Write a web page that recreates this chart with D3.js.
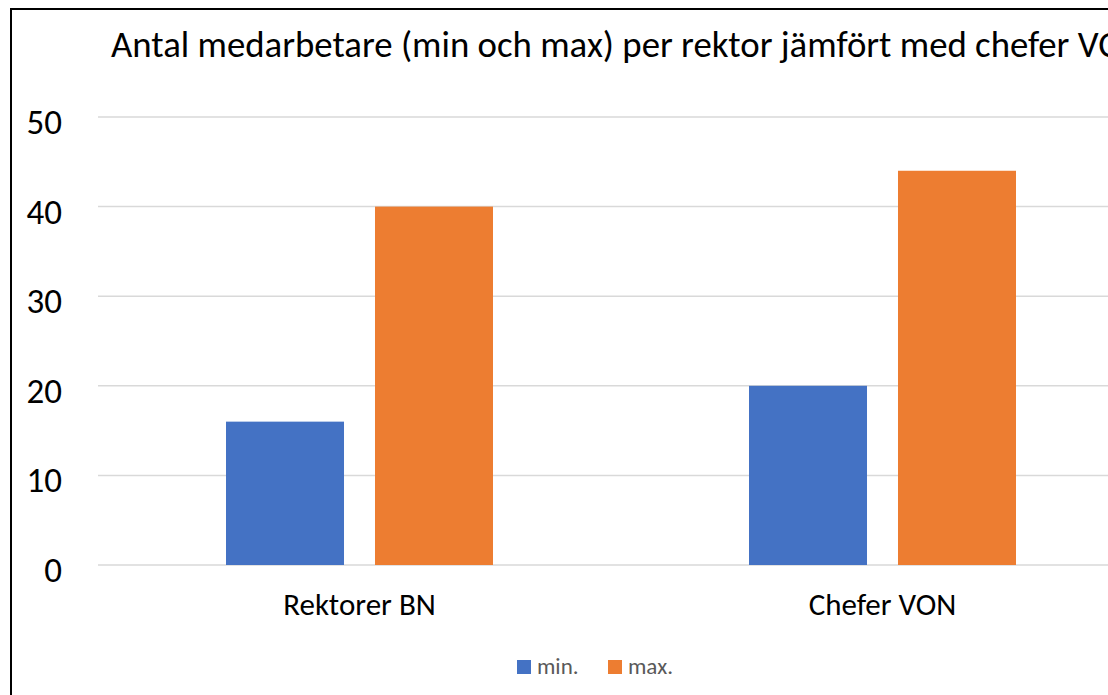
<!DOCTYPE html>
<html>
<head>
<meta charset="utf-8">
<script src="https://cdn.jsdelivr.net/npm/d3@7"></script>
<style>
  body { margin: 0; background: #fff; }
  svg { display: block; font-family: Calibri, Carlito, "Open Sans", sans-serif; }
</style>
</head>
<body>
<div id="chart"></div>
<script>
var categories = ["Rektorer BN", "Chefer VON"];
var seriesNames = ["min.", "max."];
var minValues = [16, 20];
var maxValues = [40, 44];
var yTicks = [0, 10, 20, 30, 40, 50];
var colors = ["#4472C4", "#ED7D31"];

var width = 1108,
    height = 695;

var svg = d3.select("#chart").append("svg")
    .attr("width", width)
    .attr("height", height);

// chart border (runs off the right and bottom edge)
svg.append("rect")
    .attr("x", 11).attr("y", 9)
    .attr("width", 1200).attr("height", 800)
    .attr("fill", "none")
    .attr("stroke", "#000")
    .attr("stroke-width", 2);

svg.append("text")
    .attr("x", 111)
    .attr("y", 57)
    .attr("font-size", 36.8)
    .attr("fill", "#000")
    .text("Antal medarbetare (min och max) per rektor jämfört med chefer VON");

var y = d3.scaleLinear().domain([0, 50]).range([565, 117]);

var x0 = d3.scaleBand().domain(categories).range([98, 1144]);
var x1 = d3.scaleBand().domain(seriesNames)
    .range([128, 395])
    .paddingInner(0.208);

// gridlines
svg.append("g").selectAll("line")
  .data(yTicks)
  .enter().append("line")
    .attr("x1", 98).attr("x2", 1144)
    .attr("y1", function(d) { return y(d); })
    .attr("y2", function(d) { return y(d); })
    .attr("stroke", "#d9d9d9")
    .attr("stroke-width", 1.5);

svg.append("g").selectAll("text")
  .data(yTicks)
  .enter().append("text")
    .attr("x", 62)
    .attr("y", function(d) { return y(d) + 17; })
    .attr("text-anchor", "end")
    .attr("font-size", 35)
    .attr("fill", "#000")
    .text(function(d) { return d; });

var rows = categories.map(function(c, i) {
  return {cat: c, values: [minValues[i], maxValues[i]]};
});

var group = svg.selectAll(".group")
  .data(rows)
  .enter().append("g")
    .attr("class", "group")
    .attr("transform", function(d) { return "translate(" + x0(d.cat) + ",0)"; });

group.selectAll("rect")
  .data(function(d) { return d.values.map(function(v, j) { return {name: seriesNames[j], value: v, j: j}; }); })
  .enter().append("rect")
    .attr("x", function(d) { return x1(d.name); })
    .attr("width", x1.bandwidth())
    .attr("y", function(d) { return y(d.value); })
    .attr("height", function(d) { return y(0) - y(d.value); })
    .attr("fill", function(d) { return colors[d.j]; });

group.append("text")
    .attr("x", (128 + 395) / 2)
    .attr("y", 615)
    .attr("text-anchor", "middle")
    .attr("font-size", 31)
    .attr("fill", "#000")
    .text(function(d) { return d.cat; });

// legend
var legendX = [517, 608];
var legend = svg.selectAll(".legend")
  .data(seriesNames)
  .enter().append("g")
    .attr("class", "legend")
    .attr("transform", function(d, i) { return "translate(" + legendX[i] + ",660)"; });

legend.append("rect")
    .attr("width", 14).attr("height", 14)
    .attr("fill", function(d, i) { return colors[i]; });

legend.append("text")
    .attr("x", 20)
    .attr("y", 14)
    .attr("font-size", 23)
    .attr("fill", "#595959")
    .text(function(d) { return d; });
</script>
</body>
</html>
